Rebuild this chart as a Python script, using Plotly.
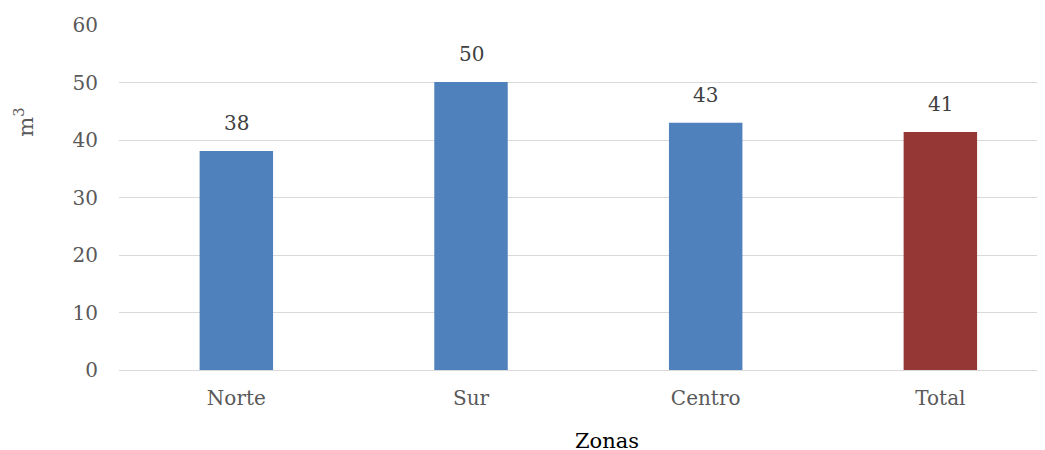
import plotly.graph_objects as go

categories = ["Norte", "Sur", "Centro", "Total"]
values = [38.1, 50.1, 43.0, 41.4]
bar_colors = ["#4F81BD", "#4F81BD", "#4F81BD", "#953735"]
y_ticks = [0, 10, 20, 30, 40, 50, 60]

FONT = "DejaVu Serif"
GRAY = "#595959"

fig = go.Figure()
fig.add_trace(go.Bar(
    x=categories, y=values, marker_color=bar_colors, width=0.313,
    marker_line_width=0, showlegend=False,
))

for c, v in zip(categories, values):
    fig.add_annotation(x=c, y=v, text=f"{v:.0f}", showarrow=False,
                       yanchor="bottom", yshift=14,
                       font=dict(family=FONT, size=20, color="#404040"))

# axis titles
fig.add_annotation(xref="paper", yref="paper", x=0.5225, y=-0.2058,
                   text="Zonas", showarrow=False, xanchor="center", yanchor="middle",
                   font=dict(family=FONT, size=21, color="#000000"))
fig.add_annotation(xref="paper", yref="paper", x=-0.102, y=0.719,
                   text="m<sup>3</sup>", showarrow=False, textangle=-90,
                   xanchor="center", yanchor="middle",
                   font=dict(family=FONT, size=21, color=GRAY))

fig.update_layout(
    width=1045, height=442,
    margin=dict(l=111, r=0, t=17, b=80),
    plot_bgcolor="white", paper_bgcolor="white",
    font=dict(family=FONT, size=20, color=GRAY),
    xaxis=dict(range=[-0.5, 3.48], showgrid=False, showline=False,
               ticks="", ticklabelstandoff=14, tickfont=dict(size=20, color=GRAY)),
    yaxis=dict(range=[0, 60], tickvals=y_ticks, showgrid=True, gridcolor="#D9D9D9",
               gridwidth=1.3, zeroline=True, zerolinecolor="#D9D9D9", zerolinewidth=1.3,
               ticks="", ticklabelstandoff=20, tickfont=dict(size=20, color=GRAY)),
)

fig.write_html("out.html")
